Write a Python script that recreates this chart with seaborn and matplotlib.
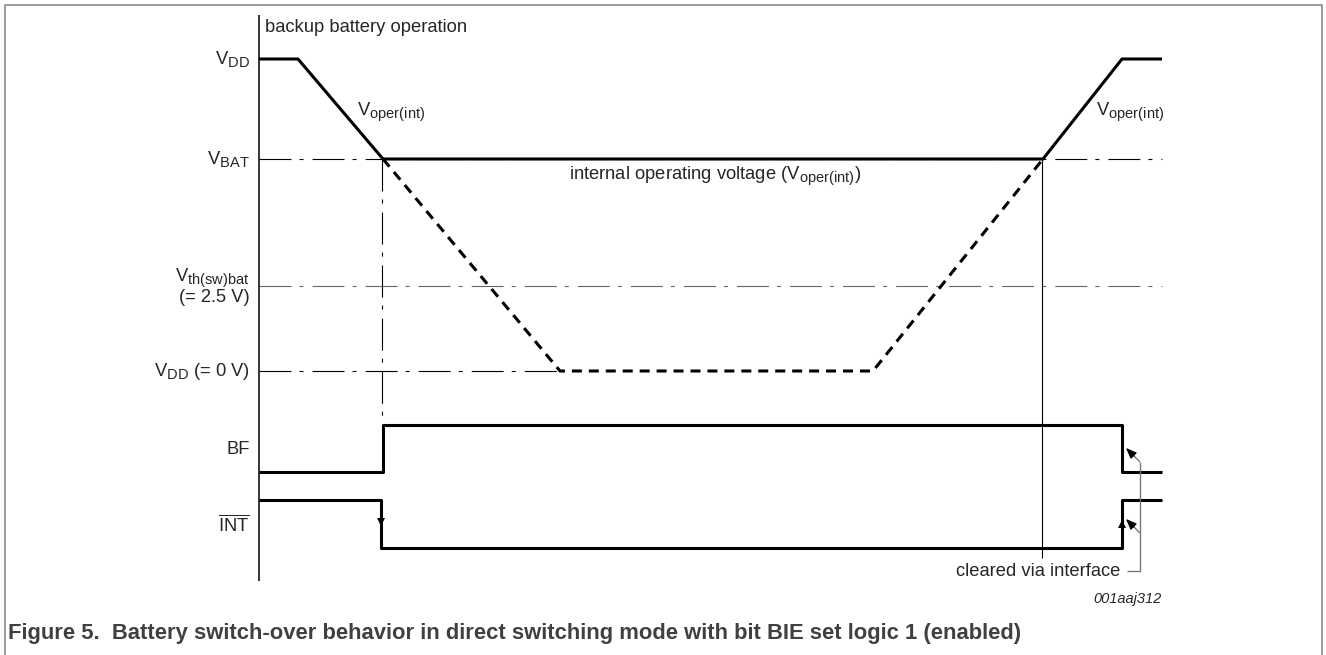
import numpy as np
import pandas as pd
import matplotlib
matplotlib.use('Agg')
import matplotlib.pyplot as plt
import matplotlib._mathtext as mathtext_impl
import seaborn as sns

# waveform data (x = time position, y = level position)
supply_t = [259, 298, 383, 1043, 1122, 1162]
supply_v = [59, 59, 159, 159, 59, 59]

vdd_t = [383, 560, 873, 1043]
vdd_v = [159, 371, 371, 159]

bf_t = [259, 383, 383, 1122, 1122, 1162]
bf_v = [472, 472, 425, 425, 472, 472]

int_t = [259, 381, 381, 1122, 1122, 1162]
int_v = [500, 500, 548, 548, 500, 500]

level_names = ['VDD', 'VBAT', 'Vth', 'V0', 'BF', 'INT']
level_y = [59, 159, 286, 371, 449, 525]

sns.set_theme(style='white')
plt.rcParams['font.family'] = ['Liberation Sans', 'DejaVu Sans']
plt.rcParams['mathtext.fontset'] = 'custom'
plt.rcParams['mathtext.rm'] = 'Liberation Sans'
plt.rcParams['mathtext.it'] = 'Liberation Sans:italic'
plt.rcParams['mathtext.bf'] = 'Liberation Sans:bold'
plt.rcParams['lines.scale_dashes'] = False
plt.rcParams['lines.solid_capstyle'] = 'butt'
# subscripts in the original are a bit larger than mathtext's default
mathtext_impl.SHRINK_FACTOR = 0.8

fig = plt.figure(figsize=(13.26, 6.55), dpi=100)
ax = fig.add_axes([0, 0, 1, 1])
ax.set_xlim(0, 1326)
ax.set_ylim(655, 0)
ax.axis('off')

dashdot = (0, (23, 5.8, 2.9, 6.5))
thin = 0.8
thick = 2.2

# frame
ax.plot([5, 5, 1322, 1322], [655, 5, 5, 655], color='#8a8a8a', lw=1.2)

# reference lines
ax.plot([259, 1162], [159, 159], color='black', lw=thin, ls=dashdot)
ax.plot([259, 1162], [286, 286], color='#666666', lw=thin, ls=dashdot)
ax.plot([259, 560], [371, 371], color='black', lw=thin, ls=dashdot)
ax.plot([382, 382], [159, 421], color='black', lw=thin, ls=dashdot)
ax.plot([1042, 1042], [159, 558], color='black', lw=thin)
ax.plot([259, 259], [15, 581], color='black', lw=1.1)

# waveforms
sns.lineplot(x=supply_t, y=supply_v, sort=False, estimator=None, ax=ax,
             color='black', lw=thick)
sns.lineplot(x=vdd_t, y=vdd_v, sort=False, estimator=None, ax=ax,
             color='black', lw=thick, ls=(0, (7.2, 5.0)))
sns.lineplot(x=bf_t, y=bf_v, sort=False, estimator=None, ax=ax,
             color='black', lw=thick)
sns.lineplot(x=int_t, y=int_v, sort=False, estimator=None, ax=ax,
             color='black', lw=thick)

# edge arrows on INT
ax.plot([int_t[1]], [522], marker='v', color='black', ms=6, mew=0)
ax.plot([int_t[3]], [524], marker='^', color='black', ms=6, mew=0)

# "cleared via interface" pointer
ax.plot([1127, 1140, 1140], [571, 571, 462], color='#777777', lw=1.0)
ax.plot([1140, 1131], [533, 524], color='#777777', lw=1.0)
ax.plot([1140, 1131], [462, 453], color='#777777', lw=1.0)
for tip in [(1126, 448), (1126, 519)]:
    ax.annotate('', xy=tip, xytext=(tip[0] + 8, tip[1] + 8),
                arrowprops=dict(arrowstyle='-|>,head_length=0.55,head_width=0.22',
                                color='black', lw=0.8, shrinkA=0, shrinkB=0))

fs = 13.2
labels = [r'$\mathrm{V_{DD}}$', r'$\mathrm{V_{BAT}}$', r'$\mathrm{V_{th(sw)bat}}$',
          r'$\mathrm{V_{DD}}$ (= 0 V)', 'BF', r'$\overline{\mathrm{INT}}$']
for name, y, lab in zip(level_names, level_y, labels):
    if name == 'Vth':
        ax.text(250, y - 8, lab, ha='right', va='center', fontsize=fs)
        ax.text(250, y + 11, '(= 2.5 V)', ha='right', va='center', fontsize=fs)
    else:
        ax.text(250, y, lab, ha='right', va='center', fontsize=fs)

ax.text(265, 27, 'backup battery operation', ha='left', va='center', fontsize=fs)
ax.text(357, 112, r'$\mathrm{V_{oper(int)}}$', ha='left', va='center', fontsize=fs)
ax.text(1096, 112, r'$\mathrm{V_{oper(int)}}$', ha='left', va='center', fontsize=fs)
ax.text(715, 176, r'internal operating voltage ($\mathrm{V_{oper(int)}}$)',
        ha='center', va='center', fontsize=fs)
ax.text(1120, 571, 'cleared via interface', ha='right', va='center', fontsize=fs)
ax.text(1162, 599, '001aaj312', ha='right', va='center', fontsize=10.5,
        style='italic')
ax.text(8, 633, 'Figure 5.  Battery switch-over behavior in direct switching mode '
        'with bit BIE set logic 1 (enabled)', ha='left', va='center',
        fontsize=15.8, fontweight='bold', color='#404040')

fig.savefig('out.png', dpi=100)
